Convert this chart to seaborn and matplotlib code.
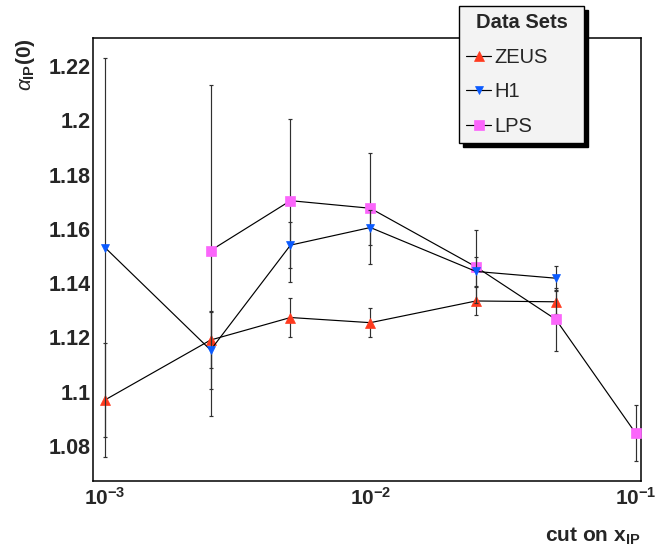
import matplotlib
matplotlib.use("Agg")
import matplotlib.pyplot as plt
import pandas as pd
import seaborn as sns
from matplotlib.ticker import FixedLocator, FixedFormatter, LogLocator, MultipleLocator

# Intercept of the pomeron trajectory versus the upper cut on x_IP
zeus_x = [0.001, 0.0025, 0.005, 0.01, 0.025, 0.05]
zeus_y = [1.0969, 1.1190, 1.1273, 1.1254, 1.1334, 1.1331]
zeus_err = [0.0211, 0.0103, 0.0073, 0.0054, 0.0050, 0.0045]

h1_x = [0.001, 0.0025, 0.005, 0.01, 0.025, 0.05]
h1_y = [1.1531, 1.1153, 1.1540, 1.1605, 1.1443, 1.1418]
h1_err = [0.0698, 0.0144, 0.0085, 0.0065, 0.0054, 0.0046]

lps_x = [0.0025, 0.005, 0.01, 0.025, 0.05, 0.1]
lps_y = [1.1520, 1.1704, 1.1676, 1.1460, 1.1266, 1.0846]
lps_err = [0.0609, 0.0301, 0.0204, 0.0135, 0.0117, 0.0103]

series_names = ["ZEUS", "H1", "LPS"]
x_ticks = [1e-3, 1e-2, 1e-1]
x_tick_labels = [r"$\mathbf{10^{-3}}$", r"$\mathbf{10^{-2}}$", r"$\mathbf{10^{-1}}$"]
y_ticks = [1.08, 1.10, 1.12, 1.14, 1.16, 1.18, 1.20, 1.22]
y_tick_labels = ["1.08", "1.1", "1.12", "1.14", "1.16", "1.18", "1.2", "1.22"]

sns.set_theme(style="white")
plt.rcParams["font.family"] = ["Liberation Sans", "DejaVu Sans"]
plt.rcParams["mathtext.fontset"] = "custom"
plt.rcParams["mathtext.rm"] = "Liberation Sans"
plt.rcParams["mathtext.bf"] = "Liberation Sans:bold"
plt.rcParams["mathtext.it"] = "Liberation Sans:italic"

frames = {
    "ZEUS": pd.DataFrame({"x": zeus_x, "y": zeus_y, "err": zeus_err}),
    "H1": pd.DataFrame({"x": h1_x, "y": h1_y, "err": h1_err}),
    "LPS": pd.DataFrame({"x": lps_x, "y": lps_y, "err": lps_err}),
}
styles = {
    "ZEUS": dict(marker="^", color="#ff3a1e", ms=7.4, z=3),
    "H1": dict(marker="v", color="#0a5aff", ms=6.0, z=5),
    "LPS": dict(marker="s", color="#fb66fb", ms=7.8, z=4),
}

fig = plt.figure(figsize=(6.55, 5.51), dpi=100)
ax = fig.add_axes([93 / 655, 1 - 481 / 551, 548 / 655, 443 / 551])

handles = {}
for name in series_names:
    df = frames[name]
    st = styles[name]
    ax.errorbar(df["x"], df["y"], yerr=df["err"], fmt="none", ecolor="#303030",
                elinewidth=0.85, capsize=1.6, capthick=0.85, zorder=st["z"] - 0.5)
    sns.lineplot(data=df, x="x", y="y", ax=ax, color="black", linewidth=0.85,
                 marker=st["marker"], markersize=st["ms"],
                 markerfacecolor=st["color"], markeredgecolor=st["color"],
                 markeredgewidth=0.5, label=name, zorder=st["z"])
    handles[name] = ax.get_lines()[-1]

ax.set_xscale("log")
ax.set_xlim(0.000901, 0.1047)
ax.set_ylim(1.067, 1.2304)

ax.xaxis.set_major_locator(FixedLocator(x_ticks))
ax.xaxis.set_major_formatter(FixedFormatter(x_tick_labels))
ax.xaxis.set_minor_locator(LogLocator(base=10, subs=range(2, 10), numticks=20))
ax.yaxis.set_major_locator(FixedLocator(y_ticks))
ax.yaxis.set_major_formatter(FixedFormatter(y_tick_labels))
ax.yaxis.set_minor_locator(MultipleLocator(0.005))

ax.tick_params(axis="both", which="both", direction="in", top=False, right=False,
               color="black", width=0.9)
ax.tick_params(axis="both", which="major", length=11)
ax.tick_params(axis="both", which="minor", length=5)
ax.tick_params(axis="y", which="major", pad=1.6, labelsize=15.5)
ax.tick_params(axis="x", which="major", pad=4.5, labelsize=15)
for lab in ax.get_yticklabels():
    lab.set_fontweight("bold")

for sp in ax.spines.values():
    sp.set_color("black")
    sp.set_linewidth(1.1)

ax.set_xlabel(r"cut on x$_{\mathbf{IP}}$", fontsize=15, fontweight="bold", loc="right")
ax.xaxis.set_label_coords(1.0, -0.100)
ax.set_ylabel(r"$\alpha_{\mathbf{IP}}\mathbf{(0)}$", fontsize=15, loc="top")
ax.yaxis.set_label_coords(-0.103, 1.0)

leg = ax.legend([handles[n] for n in series_names], series_names,
                title="Data Sets", loc="upper left",
                bbox_to_anchor=(459 / 655, 1 - 6 / 551, 125 / 655, 0.0),
                bbox_transform=fig.transFigure, mode="expand",
                fontsize=14.5, title_fontproperties={"weight": "bold", "size": 14.5},
                frameon=True, fancybox=False, framealpha=1.0,
                facecolor="#f3f3f3", edgecolor="black",
                shadow={"ox": 3, "oy": -3, "color": "black", "alpha": 1.0},
                borderpad=0.35, labelspacing=0.78, handlelength=1.25,
                handletextpad=0.15, borderaxespad=0.0)
leg.get_frame().set_linewidth(1.0)
leg.set_zorder(10)

fig.savefig("out.png", dpi=100)
